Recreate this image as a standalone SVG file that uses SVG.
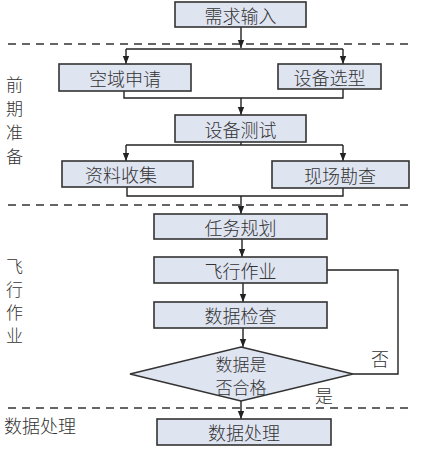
<svg xmlns="http://www.w3.org/2000/svg" width="429" height="450" viewBox="0 0 429 450">
<defs>
<marker id="ah" viewBox="0 0 10 10" refX="10" refY="5" markerWidth="8" markerHeight="8" markerUnits="userSpaceOnUse" orient="auto"><path d="M0,1 L10,5 L0,9 z" fill="#222"/></marker>
<style>
.box{fill:#dfe4f1;stroke:#333;stroke-width:1.6}
.t{font-family:"Noto Sans CJK SC","Noto Sans CJK JP",sans-serif;font-size:18px;font-weight:300;fill:#333;text-anchor:middle;dominant-baseline:central}
.d{font-size:17px;line-height:1}
.lab{font-family:"Noto Sans CJK SC","Noto Sans CJK JP",sans-serif;font-size:17px;font-weight:300;fill:#333;dominant-baseline:central}
.ln{fill:none;stroke:#222;stroke-width:1.4}
.dash{stroke:#333;stroke-width:1.4;stroke-dasharray:8 6}
</style>
</defs>
<rect width="429" height="450" fill="#fff"/>
<g id="dividers">
<line class="dash" x1="8" y1="44" x2="414" y2="44"/>
<line class="dash" x1="8" y1="205" x2="414" y2="205"/>
<line class="dash" x1="8" y1="408" x2="414" y2="408"/>
</g>
<g id="phase-labels">
<text class="lab" x="6" y="83">前</text>
<text class="lab" x="6" y="107">期</text>
<text class="lab" x="6" y="131">准</text>
<text class="lab" x="6" y="155">备</text>
<text class="lab" x="6" y="265">飞</text>
<text class="lab" x="6" y="288">行</text>
<text class="lab" x="6" y="311">作</text>
<text class="lab" x="6" y="334">业</text>
<text class="lab" x="4" y="425" style="font-size:18px">数据处理</text>
</g>
<g id="connectors">
<path class="ln" d="M241,27 V48" marker-end="url(#ah)"/>
<path class="ln" d="M126,49 H343"/>
<path class="ln" d="M126,49 V64" marker-end="url(#ah)"/>
<path class="ln" d="M343,49 V64" marker-end="url(#ah)"/>
<path class="ln" d="M124,91 V98 H343 V89"/>
<path class="ln" d="M241,98 V115" marker-end="url(#ah)"/>
<path class="ln" d="M241,142 V145"/>
<path class="ln" d="M126,145 H343"/>
<path class="ln" d="M126,145 V161" marker-end="url(#ah)"/>
<path class="ln" d="M343,145 V161" marker-end="url(#ah)"/>
<path class="ln" d="M127,187 V196 H343 V188"/>
<path class="ln" d="M241,196 V214" marker-end="url(#ah)"/>
<path class="ln" d="M242,239 V257" marker-end="url(#ah)"/>
<path class="ln" d="M243,283 V302" marker-end="url(#ah)"/>
<path class="ln" d="M243,328 V347" marker-end="url(#ah)"/>
<path class="ln" d="M353,374 H398 V270 H327"/>
<path class="ln" d="M241,401 V419" marker-end="url(#ah)"/>
<text class="t" x="380" y="358">否</text>
<text class="t" x="324" y="395">是</text>
</g>
<g id="n1"><rect class="box" x="175" y="2" width="131" height="25"/><text class="t" x="240.5" y="14.5">需求输入</text></g>
<g id="n2"><rect class="box" x="59" y="64" width="132" height="27"/><text class="t" x="125" y="77.5">空域申请</text></g>
<g id="n3"><rect class="box" x="278" y="64" width="103" height="25"/><text class="t" x="329.5" y="76.5">设备选型</text></g>
<g id="n4"><rect class="box" x="175" y="115" width="131" height="27"/><text class="t" x="240.5" y="128.5">设备测试</text></g>
<g id="n5"><rect class="box" x="62" y="161" width="131" height="26"/><text class="t" x="121" y="174">资料收集</text></g>
<g id="n6"><rect class="box" x="272" y="161" width="137" height="27"/><text class="t" x="340" y="174.5">现场勘查</text></g>
<g id="n7"><rect class="box" x="154" y="214" width="173" height="25"/><text class="t" x="240.5" y="226.5">任务规划</text></g>
<g id="n8"><rect class="box" x="154" y="257" width="173" height="26"/><text class="t" x="240.5" y="270">飞行作业</text></g>
<g id="n9"><rect class="box" x="154" y="302" width="173" height="26"/><text class="t" x="240.5" y="315">数据检查</text></g>
<g id="n10"><polygon class="box" points="241,347 353,374 241,401 130,374"/><text class="t d" x="241" y="363">数据是</text><text class="t d" x="241" y="386">否合格</text></g>
<g id="n11"><rect class="box" x="157" y="419" width="174" height="26"/><text class="t" x="244" y="432">数据处理</text></g>
</svg>
